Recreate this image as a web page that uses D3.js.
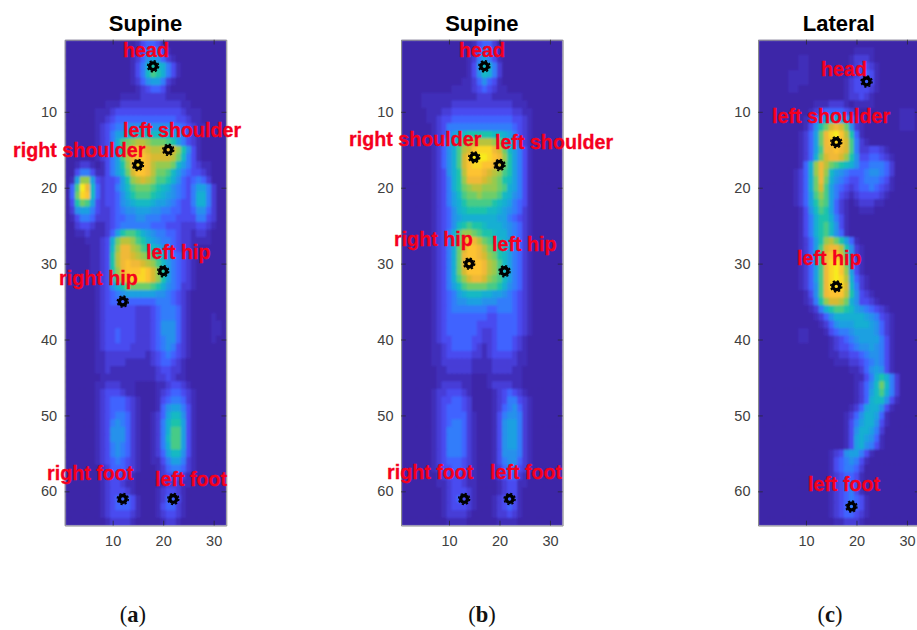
<!DOCTYPE html>
<html>
<head>
<meta charset="utf-8">
<script src="https://cdn.jsdelivr.net/npm/d3@7"></script>
<style>
  html, body { margin: 0; padding: 0; background: #fff; overflow: hidden; }
  text { font-family: "Liberation Sans", Arial, sans-serif; }
</style>
</head>
<body>
<div id="chart"></div>
<script>
const width = 917;
const height = 630;

// pressure levels, one char per cell (0-k = 0-20), 32 columns x 64 rows
const rowsA = [
"00000000000000134431000000000000","00000000000000135553100000000000","00000000000001246764210000000000","00000000000001358a98531000000000",
"00000000000001359ba8531000000000","00000000000001246775210000000000","00000000000000123443100000000000","00000000000111122222111100000000",
"00000000111222222222222110000000","00000011123333333333333211100000","00000011234444444444443321100000","00000012345566666666655432110000",
"00000012357788999998876532100000","00000012358bcdeedcccba7532100000","00000012357aeghgfeefgfda63100000","00000012357beghhgffffec953100000",
"00122101357adgihgedddc9753211000","003553113579cfhhgeccb97543321000","017dd7323347adefedbba86434542000","04bjg94233579bcccba9865435775200",
"04cih94233468abbba98765435885200","03acb732334678999877654335885200","02677532234566777665544334664200","01355422234455665554443333553200",
"00233211234555555444333222332100","00112111247abba87655443221221000","0000111238ceedba8765543221111000","0000011239dggedba986543221000000",
"000001123aeggfedcba8654321000000","000001123aeghggfedb9754321000000","000001123adghhhihfda754321000000","0000011239cfhiiihfda754321000000",
"00000012368acccccba8654221000000","00000012345677777766543210000000","00000012344444444455543210000000","00000012333333222345554210000000",
"00000012333333222345554210000100","00000012333333222346664210000110","00000012334333222346664210000110","00000012334333222345664210000100",
"00000012333332222345653210000000","00000011222222221234543210000000","00000011222211111234432100000000","00000011211111111123322100000000",
"00000001111111111122321100000000","00000011222111000011233210000000","00000012333211000012344321000000","00000012344432100013455421000000",
"00000012344432100014677531000000","00000012345542100124799631000000","000000123565421001258aa731000000","000000123666421001258bb731000000",
"000000123666421001259bb731000000","000000123565421001258bb731000000","00000012356542100124799631000000","00000012345432100113577521000000",
"00000001244432100012455421000000","00000001233321000012333210000000","00000001233211000001222110000000","00000001233321000012332100000000",
"00000001234443100012443100000000","00000001234443100013442100000000","00000001233332100012332100000000","00000000122221000001221000000000"
];

const rowsB = [
"00000000000000134420000000000000","00000000000000145531000000000000","00000000000001257531000000000000","00000000000001369852000000000000",
"00000000000001369852000000000000","00000000000011246431000000000000","00000000001111234321100000000000","00001111111111122211111100000000",
"00001111112222222222221110000000","00000111223333333333332211000000","00000112334444444444443321000000","00000012355555555555554321000000",
"0000001235789aaaaa99875321000000","000000124789cdeeeedc986421000000","00000012468befhiiigfc97531000000","00000012468bfhjjjihgda7531000000",
"00000012468bfhiihhgfca7531000000","00000012368aehhhgfedba7531000000","00000012358adgggfedca97531000000","00000012358acdeedddcb87531000000",
"000000123579bccdcccb986531000000","000000123578abbbbba9875431000000","0000001234689aaaa998765421000000","00000012346788888887754321000000",
"000000123469abaa9888765421000000","00000012358bddcbaa98865421000000","00000012358bfhgecba9875421000000","00000012358cfhhgecba975421000000",
"00000012358cghhgfdca975421000000","00000012358cghhhgedb975421000000","00000012358cfhhhgedb975421000000","00000012358bdfggfdcb975421000000",
"000000123579bccccbba865421000000","00000012345789998877654321000000","00000012345667776665554321000000","00000012345555555445554321000000",
"00000012344444444334444321000000","00000012344444433334444321000000","00000012344444432234444321000000","00000012334444332234443210000000",
"00000011234444321234443210000000","00000011233333221233332110000000","00000011222222111122222110000000","00000001122222111122221100000000",
"00000001111111000111111100000000","00000001222211000122221100000000","00000012233321000012343210000000","00000012334432000012355321000000",
"00000012344432000012456421000000","00000012344442100013566521000000","00000012345542100013677521000000","00000012355542100013677521000000",
"00000012355542100013677521000000","00000012355542100013677521000000","00000012355542100013666521000000","00000012344432100013566421000000",
"00000012334432100012455321000000","00000001233321100012344210000000","00000001123321100001233110000000","00000000123332100001233100000000",
"00000000123432100012343100000000","00000000123332100012343100000000","00000000122221000012232100000000","00000000011110000001111000000000"
];

const rowsC = [
"00000000000000000000000000000000","00000000000000000001111000000000","00000000110000000012221000000000","00000000110000000012332100000000",
"00000011110000000012343100000000","00000011110000000123343100000000","00000011000000000123332100000000","00000000000000000122321000000000",
"00000000000111222101111000000000","00000000001234444321000000001110","00000000012467887642100000001110","000000000136acfgfc62100000001110",
"000000001247cgijhea4100000000000","000000001247cghihfb5210000000000","000000001247bgghgfb5223321000000","000000001248cfggfda6334432100000",
"00000000148dgecba986445554200000","00000001248dgd976544456654200000","00000001248cgc865433455543100000","00000001248cfb754323445432100000",
"00000001247bdb753212333321000000","00000001247acb742101222110000000","000000001369ba742100111000000000","000000001358aa853100000000000000",
"000000001358ab963100000000000000","000000001358ab964100000000000000","000000001247adeca741000000000000","000000001247bfggea62100000000000",
"000000001247bghhfb62100000000000","000000001247bgijhc73100000000000","000000001247bgijhd73100000000000","000000001247bgijie84210000000000",
"000000001246bgiiif95210000000000","000000000136bghhhea6321000000000","000000000125adffec86332100000000","00000000001258abba97654321000000",
"00000000000124688888876532100000","00000000000012467778887642100000","00000000110001345567777642100000","00000000110000123456777753100000",
"00000000000000123345667653100000","00000000000000112233456653100000","00000000000000011122345653100000","00000000000000000011246763100000",
"000000000000000000011358a8520000","000000000000000000012469c9520000","000000000000000000012479b8520000","00000000000000000001248996310000",
"00000000000000000012478863100000","00000000000000000124688741000000","00000000000000000135788631000000","00000000000000000136887520000000",
"00000000000000000137876410000000","00000000000000000137865310000000","00000000000000123677531000000000","00000000000000134565310000000000",
"00000000000000134554200000000000","00000000000000123443100000000000","00000000000000123443100000000000","00000000000000123453100000000000",
"00000000000000123454310000000000","00000000000000123454310000000000","00000000000000123443210000000000","00000000000000011222100000000000"
];

const titles = ["Supine", "Supine", "Lateral"];
const captions = ["a", "b", "c"];
const xTicks = [10, 20, 30];
const yTicks = [10, 20, 30, 40, 50, 60];

// joint name, marker column, marker row, label column, label row
const jointsA = [
  ["head", 18, 4, 12.04, 2.78],
  ["left shoulder", 21, 15, 12.04, 13.32],
  ["right shoulder", 15, 17, -9.74, 15.95],
  ["left hip", 20, 31, 16.6, 29.39],
  ["right hip", 12, 35, -0.63, 32.82],
  ["right foot", 12, 61, -3.0, 58.51],
  ["left foot", 22, 61, 18.38, 59.3]
];
const jointsB = [
  ["head", 17, 4, 11.99, 2.78],
  ["right shoulder", 15, 16, -9.8, 14.5],
  ["left shoulder", 20, 17, 19.1, 14.9],
  ["right hip", 14, 30, -0.89, 27.68],
  ["left hip", 21, 31, 18.52, 28.34],
  ["right foot", 13, 61, -2.27, 58.38],
  ["left foot", 22, 61, 18.12, 58.38]
];
const jointsC = [
  ["head", 22, 6, 12.98, 5.28],
  ["left shoulder", 16, 14, 3.27, 11.48],
  ["left hip", 16, 33, 8.22, 30.18],
  ["left foot", 19, 62, 10.4, 59.96]
];

const panels = [
  { rows: rowsA, joints: jointsA, left: 64.7, captionX: 133 },
  { rows: rowsB, joints: jointsB, left: 401, captionX: 482 },
  { rows: rowsC, joints: jointsC, left: 758, captionX: 830 }
];

const plotTop = 39.7;
const plotW = 161.6;
const plotH = 485.8;

// parula, one colour per level
const parula = [
  "#3e26a8", "#412db9", "#463cd7", "#484bf0", "#4164ff", "#327dfa", "#2891eb",
  "#1ea0e1", "#19afd2", "#14b9c3", "#1ec3aa", "#46cb87", "#6ecd69", "#96ca50",
  "#b9c33c", "#d7ba32", "#f0b937", "#fdc332", "#fad728", "#f8eb1e", "#f9fb15"
];
const color = d3.scaleQuantize().domain([0, 21]).range(parula);

const svg = d3.select("#chart")
  .append("svg")
  .attr("width", width)
  .attr("height", height);

const defs = svg.append("defs");
defs.append("filter").attr("id", "soft")
  .append("feGaussianBlur").attr("stdDeviation", 0.9);

panels.forEach((p, i) => {
  const x = d3.scaleLinear().domain([0.5, 32.5]).range([0, plotW]);
  const y = d3.scaleLinear().domain([0.5, 64.5]).range([0, plotH]);

  const g = svg.append("g").attr("transform", `translate(${p.left}, ${plotTop})`);

  defs.append("clipPath").attr("id", `clip${i}`)
    .append("rect").attr("width", plotW).attr("height", plotH);

  const cells = [];
  p.rows.forEach((row, r) => {
    row.padEnd(32, "0").slice(0, 32).split("").forEach((ch, c) => {
      cells.push({ col: c + 1, row: r + 1, value: parseInt(ch, 36) });
    });
  });

  // cells overlap a pixel so the antialiased edges leave no seams
  g.append("g").attr("clip-path", `url(#clip${i})`)
    .append("g").attr("filter", "url(#soft)")
    .selectAll("rect")
    .data(cells)
    .enter()
    .append("rect")
    .attr("x", d => x(d.col - 0.5))
    .attr("y", d => y(d.row - 0.5))
    .attr("width", x(1.5) - x(0.5) + 1)
    .attr("height", y(1.5) - y(0.5) + 1)
    .attr("fill", d => color(d.value + 0.5));

  // box round the image, ticks point inwards on all four sides
  const axes = [
    [d3.axisBottom(x).tickValues(xTicks).tickPadding(10), `translate(0, ${plotH})`, true],
    [d3.axisLeft(y).tickValues(yTicks).tickPadding(7.5), "translate(0, 0)", true],
    [d3.axisTop(x).tickValues(xTicks).tickFormat(""), "translate(0, 0)", false],
    [d3.axisRight(y).tickValues(yTicks).tickFormat(""), `translate(${plotW}, 0)`, false]
  ];
  axes.forEach(([axis, tr, labelled]) => {
    const a = g.append("g")
      .attr("transform", tr)
      .call(axis.tickSizeInner(-4.8).tickSizeOuter(0));
    a.select(".domain").attr("stroke", "#8c8c8c").attr("stroke-width", 1);
    a.selectAll(".tick line").attr("stroke", "#262626").attr("stroke-width", 0.7);
    if (labelled) {
      a.selectAll(".tick text")
        .attr("fill", "#404040")
        .attr("font-size", 14.5)
        .attr("font-family", "'Liberation Sans', Arial, sans-serif");
    }
  });

  g.append("text")
    .attr("x", plotW / 2)
    .attr("y", -8.5)
    .attr("text-anchor", "middle")
    .attr("font-size", 22)
    .attr("font-weight", "bold")
    .attr("fill", "#000")
    .text(titles[i]);

  g.selectAll(".joint")
    .data(p.joints)
    .enter()
    .append("circle")
    .attr("class", "joint")
    .attr("cx", d => x(d[1]))
    .attr("cy", d => y(d[2]))
    .attr("r", 3.4)
    .attr("fill", "none")
    .attr("stroke", "#000")
    .attr("stroke-width", 3.4);

  g.selectAll(".teeth")
    .data(p.joints)
    .enter()
    .append("circle")
    .attr("class", "teeth")
    .attr("cx", d => x(d[1]))
    .attr("cy", d => y(d[2]))
    .attr("r", 5.5)
    .attr("fill", "none")
    .attr("stroke", "#000")
    .attr("stroke-width", 1.5)
    .attr("stroke-dasharray", "2.16 2.16");

  g.selectAll(".label")
    .data(p.joints)
    .enter()
    .append("text")
    .attr("class", "label")
    .attr("x", d => x(d[3]))
    .attr("y", d => y(d[4]))
    .attr("font-size", 19.7)
    .attr("font-weight", "bold")
    .attr("fill", "#f5001e")
    .attr("stroke", "#f5001e")
    .attr("stroke-width", 0.3)
    .text(d => d[0]);

  const cap = g.append("text")
    .attr("x", p.captionX - p.left)
    .attr("y", 582.5)
    .attr("text-anchor", "middle")
    .attr("font-size", 22.5)
    .attr("fill", "#111")
    .style("font-family", "'Liberation Serif', serif");
  cap.append("tspan").text("(");
  cap.append("tspan").attr("font-weight", "bold").text(captions[i]);
  cap.append("tspan").text(")");
});
</script>
</body>
</html>
